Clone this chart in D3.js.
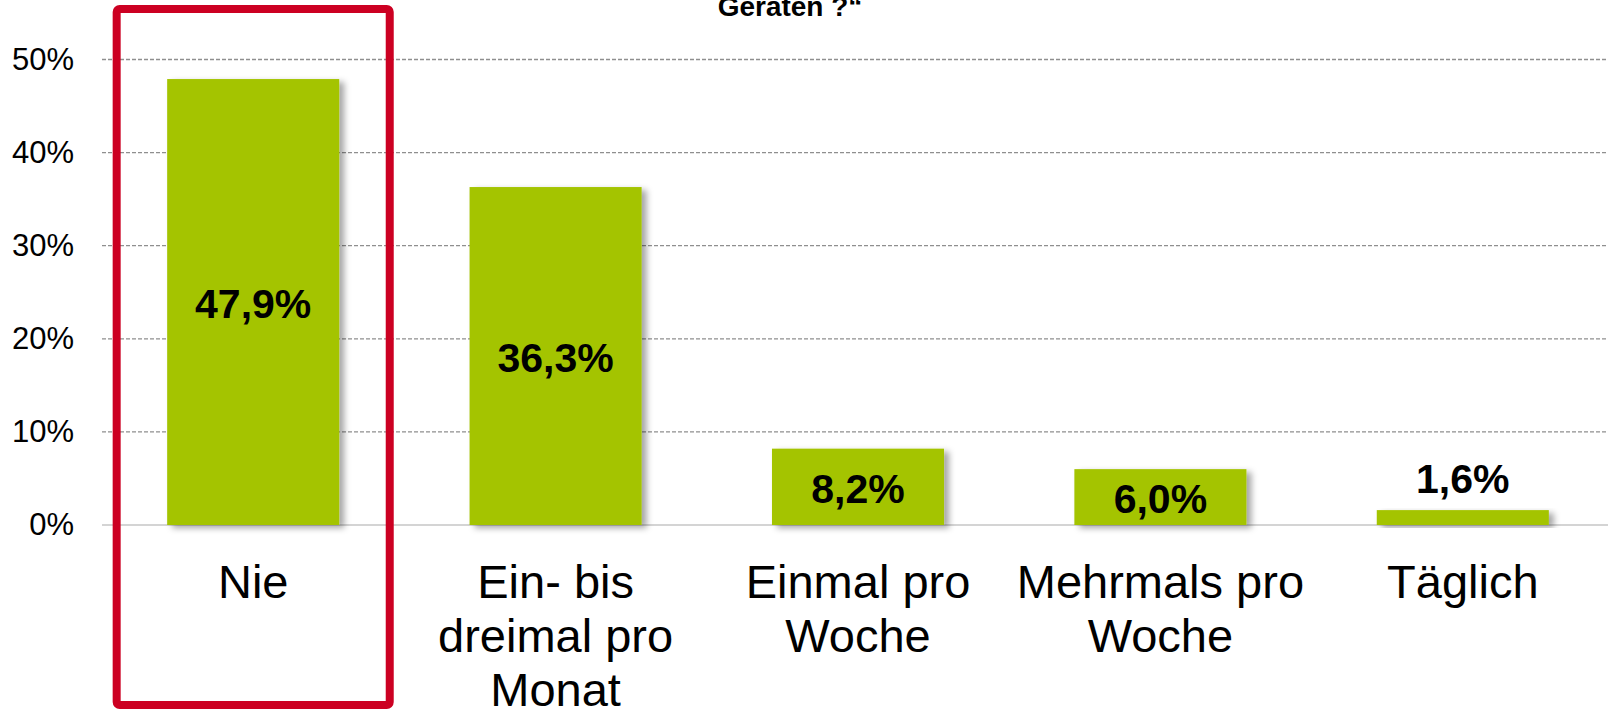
<!DOCTYPE html>
<html>
<head>
<meta charset="utf-8">
<script src="https://cdnjs.cloudflare.com/ajax/libs/d3/7.8.5/d3.min.js"></script>
<style>
  body { margin: 0; background: #fff; }
  svg { display: block; font-family: "Liberation Sans", Arial, sans-serif; }
</style>
</head>
<body>
<div id="chart"></div>
<script>
// data
var categories = ["Nie", "Ein- bis\ndreimal pro\nMonat", "Einmal pro\nWoche", "Mehrmals pro\nWoche", "Täglich"];
var values = [47.9, 36.3, 8.2, 6.0, 1.6];
var valueLabels = ["47,9%", "36,3%", "8,2%", "6,0%", "1,6%"];
var yTicks = [0, 10, 20, 30, 40, 50];
var title = "Geräten ?“";
var highlighted = "Nie";

var width = 1608, height = 710;

var svg = d3.select("#chart").append("svg")
    .attr("width", width)
    .attr("height", height);

// soft shadow behind the bars
var filter = svg.append("defs").append("filter")
    .attr("id", "shadow")
    .attr("x", "-10%").attr("y", "-10%")
    .attr("width", "130%").attr("height", "130%");
filter.append("feDropShadow")
    .attr("dx", 5).attr("dy", 3)
    .attr("stdDeviation", 3)
    .attr("flood-color", "#000")
    .attr("flood-opacity", 0.35);

var x = d3.scaleBand()
    .domain(categories)
    .range([102, 1614])
    .paddingInner(0.431)
    .paddingOuter(0.2155);

var y = d3.scaleLinear()
    .domain([0, 50])
    .range([525, 59.5]);

// title (only the last line is visible at the top)
svg.append("text")
    .attr("x", 790)
    .attr("y", 16)
    .attr("text-anchor", "middle")
    .style("font-size", "28px")
    .style("font-weight", "bold")
    .text(title);

// y axis with dashed grid lines
var yAxis = svg.append("g")
    .attr("transform", "translate(102,0)")
    .call(d3.axisLeft(y).tickValues(yTicks).tickSize(0).tickPadding(28)
        .tickFormat(function(d) { return d + "%"; }));
yAxis.select(".domain").remove();
yAxis.selectAll("text")
    .style("font-size", "31px")
    .style("font-family", "'Liberation Sans', Arial, sans-serif")
    .attr("fill", "#000");

svg.append("g").selectAll("line")
    .data(yTicks)
    .join("line")
    .attr("x1", 102)
    .attr("x2", width)
    .attr("y1", function(d) { return y(d); })
    .attr("y2", function(d) { return y(d); })
    .attr("stroke", function(d) { return d === 0 ? "#d4d4d4" : "#8f8f8f"; })
    .attr("stroke-width", function(d) { return d === 0 ? 2 : 1.3; })
    .attr("stroke-dasharray", function(d) { return d === 0 ? null : "4,2"; });

// bars
svg.append("g").selectAll("rect")
    .data(values)
    .join("rect")
    .attr("x", function(d, i) { return x(categories[i]); })
    .attr("y", function(d) { return y(d); })
    .attr("width", x.bandwidth())
    .attr("height", function(d) { return y(0) - y(d); })
    .attr("fill", "#a4c400")
    .attr("filter", "url(#shadow)");

// value labels, inside the bar when it is tall enough
svg.append("g").selectAll("text")
    .data(values)
    .join("text")
    .attr("x", function(d, i) { return x(categories[i]) + x.bandwidth() / 2; })
    .attr("y", function(d) {
        if (y(0) - y(d) < 40) return y(d) - 17;
        return (y(d) + y(0)) / 2 + 16;
    })
    .attr("text-anchor", "middle")
    .style("font-size", "41px")
    .style("font-weight", "bold")
    .text(function(d, i) { return valueLabels[i]; });

// category labels on several lines
var xAxis = svg.append("g")
    .attr("transform", "translate(0," + y(0) + ")")
    .call(d3.axisBottom(x).tickSize(0).tickFormat(""));
xAxis.select(".domain").remove();
xAxis.selectAll(".tick text").remove();
xAxis.selectAll(".tick").append("text")
    .attr("text-anchor", "middle")
    .attr("fill", "#000")
    .style("font-size", "47px")
    .style("font-family", "'Liberation Sans', Arial, sans-serif")
    .selectAll("tspan")
    .data(function(d) { return d.split("\n"); })
    .join("tspan")
    .attr("x", 0)
    .attr("y", function(d, i) { return 73 + i * 54; })
    .text(function(d) { return d; });

// red frame round the highlighted category
var pad = 50.5;
svg.append("rect")
    .attr("x", x(highlighted) - pad)
    .attr("y", 9)
    .attr("width", x.bandwidth() + 2 * pad)
    .attr("height", 696)
    .attr("rx", 3)
    .attr("fill", "none")
    .attr("stroke", "#cc0022")
    .attr("stroke-width", 8);
</script>
</body>
</html>
